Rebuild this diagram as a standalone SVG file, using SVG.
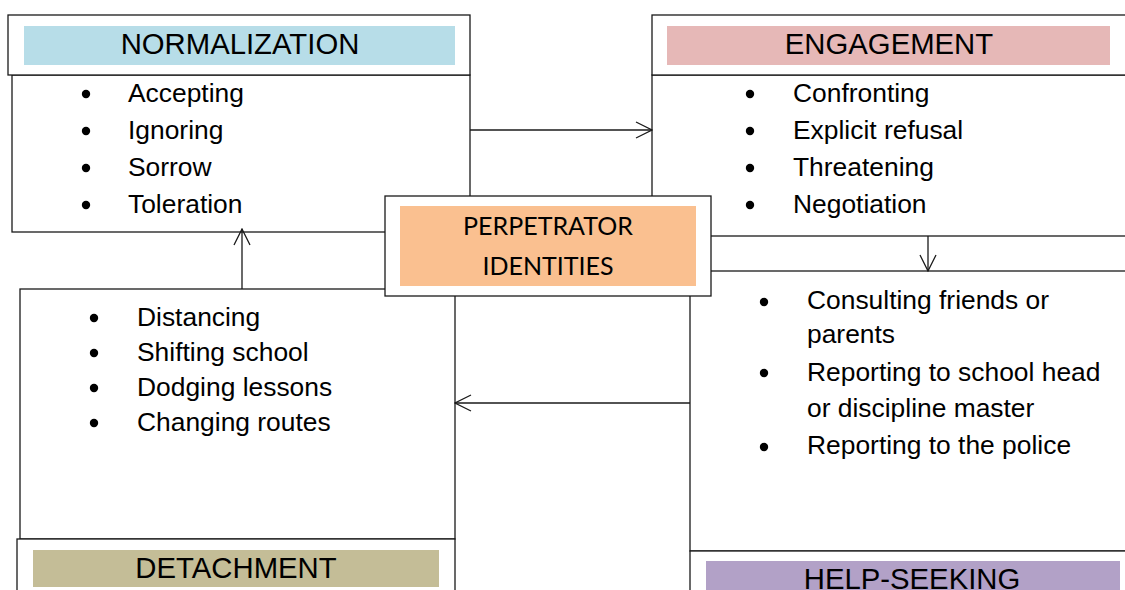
<svg xmlns="http://www.w3.org/2000/svg" width="1125" height="590" viewBox="0 0 1125 590">
<style>
.box{fill:#fff;stroke:#1a1a1a;stroke-width:1.3}
.hd{font-family:"Liberation Sans",Arial,sans-serif;font-size:29.3px;fill:#000;text-anchor:middle}
.it{font-family:"Liberation Sans",Arial,sans-serif;font-size:26.4px;fill:#000}
.bl{fill:#000}
.ln{stroke:#1a1a1a;stroke-width:1.3;fill:none}
.pp{font-family:Lato,"Open Sans",sans-serif;font-size:25px;fill:#000;text-anchor:middle}
</style>
<defs>
<marker id="ah" viewBox="0 0 18 18" refX="17" refY="9" markerWidth="18" markerHeight="18" markerUnits="userSpaceOnUse" orient="auto">
<path d="M1,1 L17,9 L1,17" fill="none" stroke="#1a1a1a" stroke-width="1.3"/>
</marker>
</defs>
<rect width="1125" height="590" fill="#fff"/>

<g id="normalization">
<rect class="box" x="12" y="75" width="458" height="157"/>
<rect class="box" x="8" y="15" width="462" height="60"/>
<rect x="24" y="26" width="431" height="39" fill="#B7DDE8"/>
<text class="hd" x="240" y="54">NORMALIZATION</text>
<circle class="bl" cx="86" cy="94" r="4.2"/>
<circle class="bl" cx="86" cy="131" r="4.2"/>
<circle class="bl" cx="86" cy="168" r="4.2"/>
<circle class="bl" cx="86" cy="205" r="4.2"/>
<text class="it" x="128" y="102">Accepting</text>
<text class="it" x="128" y="139">Ignoring</text>
<text class="it" x="128" y="176">Sorrow</text>
<text class="it" x="128" y="213">Toleration</text>
</g>

<g id="engagement">
<rect class="box" x="652" y="75" width="500" height="161"/>
<rect class="box" x="652" y="15" width="500" height="60"/>
<rect x="667" y="26" width="443" height="39" fill="#E6B8B7"/>
<text class="hd" x="889" y="54">ENGAGEMENT</text>
<circle class="bl" cx="750" cy="94" r="4.2"/>
<circle class="bl" cx="750" cy="131" r="4.2"/>
<circle class="bl" cx="750" cy="168" r="4.2"/>
<circle class="bl" cx="750" cy="205" r="4.2"/>
<text class="it" x="793" y="102">Confronting</text>
<text class="it" x="793" y="139">Explicit refusal</text>
<text class="it" x="793" y="176">Threatening</text>
<text class="it" x="793" y="213">Negotiation</text>
</g>

<g id="detachment">
<rect class="box" x="20" y="289" width="435" height="250"/>
<rect class="box" x="17" y="539" width="438" height="100"/>
<rect x="33" y="550" width="406" height="37" fill="#C4BD97"/>
<text class="hd" x="236" y="578">DETACHMENT</text>
<circle class="bl" cx="94" cy="318" r="4.2"/>
<circle class="bl" cx="94" cy="353" r="4.2"/>
<circle class="bl" cx="94" cy="388" r="4.2"/>
<circle class="bl" cx="94" cy="423" r="4.2"/>
<text class="it" x="137" y="326">Distancing</text>
<text class="it" x="137" y="361">Shifting school</text>
<text class="it" x="137" y="396">Dodging lessons</text>
<text class="it" x="137" y="431">Changing routes</text>
</g>

<g id="help-seeking">
<rect class="box" x="690" y="271" width="500" height="280"/>
<rect class="box" x="690" y="551" width="500" height="100"/>
<rect x="706" y="561" width="414" height="40" fill="#B2A1C7"/>
<text class="hd" x="912" y="589">HELP-SEEKING</text>
<circle class="bl" cx="764" cy="302" r="4.2"/>
<circle class="bl" cx="764" cy="373" r="4.2"/>
<circle class="bl" cx="764" cy="447" r="4.2"/>
<text class="it" x="807" y="309">Consulting friends or</text>
<text class="it" x="807" y="343">parents</text>
<text class="it" x="807" y="381">Reporting to school head</text>
<text class="it" x="807" y="417">or discipline master</text>
<text class="it" x="807" y="454">Reporting to the police</text>
</g>

<g id="connectors">
<line class="ln" x1="470" y1="130" x2="652" y2="130" marker-end="url(#ah)"/>
<line class="ln" x1="928" y1="236" x2="928" y2="271" marker-end="url(#ah)"/>
<line class="ln" x1="690" y1="403" x2="455" y2="403" marker-end="url(#ah)"/>
<line class="ln" x1="242" y1="289" x2="242" y2="229" marker-end="url(#ah)"/>
</g>

<g id="perpetrator">
<rect class="box" x="385" y="196" width="326" height="100"/>
<rect x="400" y="206" width="296" height="80" fill="#FAC090"/>
<text class="pp" x="548" y="235">PERPETRATOR</text>
<text class="pp" x="548" y="275">IDENTITIES</text>
</g>
</svg>
